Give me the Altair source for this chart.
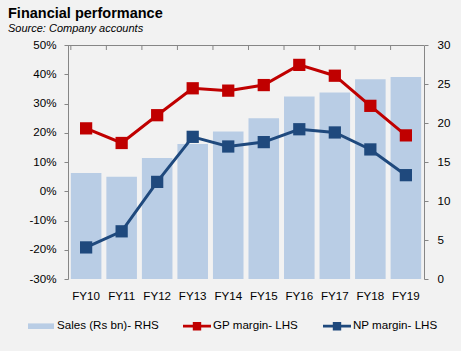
import altair as alt
import pandas as pd

years = ["FY10", "FY11", "FY12", "FY13", "FY14", "FY15", "FY16", "FY17", "FY18", "FY19"]
sales = [13.6, 13.1, 15.5, 17.3, 18.9, 20.6, 23.4, 23.9, 25.6, 25.9]
gp_margin = [21.5, 16.5, 26.0, 35.2, 34.4, 36.3, 43.2, 39.5, 29.2, 19.1]
np_margin = [-19.2, -13.7, 3.2, 18.6, 15.3, 16.8, 21.2, 20.1, 14.3, 5.5]
left_ticks = [-30, -20, -10, 0, 10, 20, 30, 40, 50]
right_ticks = [0, 5, 10, 15, 20, 25, 30]
series_names = ["Sales (Rs bn)- RHS", "GP margin- LHS", "NP margin- LHS"]
series_colors = ["#b9cde5", "#c00000", "#1f497d"]

FONT = "Liberation Sans"
FS = 11.6
AXIS_COL = "#868686"
W, H = 356, 234

df = pd.DataFrame({"year": years, "sales": sales, "gp": gp_margin, "np": np_margin})
legend_df = pd.DataFrame({"series": series_names})
one = pd.DataFrame({"k": [0]})

x_axis = alt.Axis(title=None, domain=False, ticks=False, labelAngle=0, labelPadding=11,
                  labelFont=FONT, labelFontSize=FS, labelColor="black")
x_scale = alt.Scale(paddingInner=0.14, paddingOuter=0.08)
x_enc = alt.X("year:N", sort=years, scale=x_scale, axis=x_axis)

bars = alt.Chart(df).mark_bar(color=series_colors[0]).encode(
    x=x_enc,
    y=alt.Y("sales:Q", scale=alt.Scale(domain=[0, 30], nice=False),
            axis=alt.Axis(orient="right", values=right_ticks, title=None, grid=False,
                          domainColor=AXIS_COL, tickColor=AXIS_COL, tickSize=4,
                          labelPadding=9, labelFont=FONT, labelFontSize=FS,
                          labelColor="black")),
)

y_left = alt.Y("val:Q", scale=alt.Scale(domain=[-30, 50], nice=False),
               axis=alt.Axis(orient="left", values=left_ticks, title=None, grid=False,
                             domainColor=AXIS_COL, tickColor=AXIS_COL, tickSize=4,
                             labelPadding=8, labelFont=FONT, labelFontSize=FS,
                             labelColor="black", labelExpr="datum.value + '%'"))

def series_layers(field, color):
    base = alt.Chart(df).transform_calculate(val=f"datum.{field}")
    line = base.mark_line(color=color, strokeWidth=3).encode(x=x_enc, y=y_left)
    pts = base.mark_square(color=color, size=150, opacity=1).encode(x=x_enc, y=y_left)
    return [line, pts]

lines = alt.layer(*series_layers("gp", series_colors[1]), *series_layers("np", series_colors[2]))

top_line = alt.Chart(one).mark_rule(color=AXIS_COL, strokeWidth=1).encode(
    x=alt.value(0), x2=alt.value(W), y=alt.value(0.5))
top_ticks = alt.Chart(df).mark_rule(color=AXIS_COL, strokeWidth=1).encode(
    x=alt.X("year:N", sort=years, bandPosition=0, scale=x_scale, axis=x_axis),
    y=alt.value(0), y2=alt.value(5))

line_sym = "M-1,-0.1H1V0.1H-1Z M-0.3,-0.3H0.3V0.3H-0.3Z"
bar_sym = "M-0.93,-0.2H0.93V0.2H-0.93Z"
leg = alt.Legend(orient="none", legendX=-41, legendY=267, direction="horizontal",
                 title=None, symbolSize=784, symbolStrokeWidth=0, symbolOpacity=1,
                 labelFont=FONT, labelFontSize=FS, labelColor="black",
                 columnPadding=24, labelOffset=2)
legend_layer = alt.Chart(legend_df).mark_point(filled=True, opacity=0).encode(
    color=alt.Color("series:N", scale=alt.Scale(domain=series_names, range=series_colors), legend=leg),
    shape=alt.Shape("series:N", scale=alt.Scale(domain=series_names, range=[bar_sym, line_sym, line_sym]), legend=leg),
)

chart = alt.layer(bars, lines, top_line, top_ticks, legend_layer).resolve_scale(
    y="independent"
).properties(
    width=W, height=H,
    autosize=alt.AutoSizeParams(type="none"),
    padding={"left": 68, "top": 45, "right": 37, "bottom": 72},
    background="#f2f2f2",
    title=alt.TitleParams(
        text="Financial performance", subtitle="Source: Company accounts",
        anchor="start", frame="group", dx=-60, offset=4, font=FONT, fontSize=14.5,
        fontWeight="bold", color="black", subtitleFont=FONT, subtitleFontSize=11,
        subtitleFontStyle="italic", subtitleColor="black", subtitlePadding=2,
    ),
).configure_view(stroke=None)

chart.save("out.html", embed_options={"renderer": "svg", "actions": False})
